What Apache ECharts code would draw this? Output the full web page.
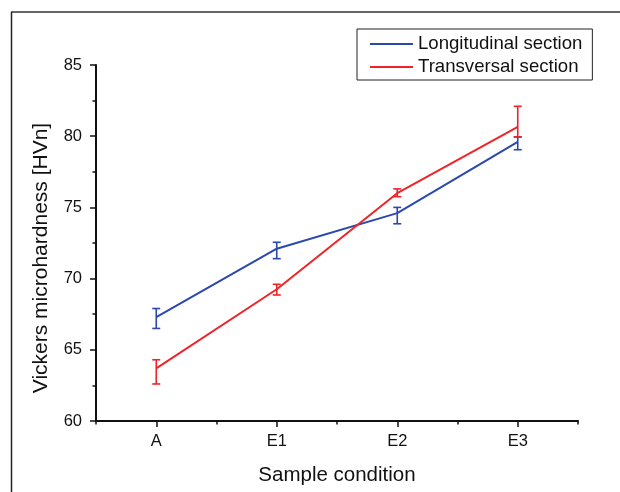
<!DOCTYPE html>
<html>
<head>
<meta charset="utf-8">
<script src="https://cdn.jsdelivr.net/npm/echarts@6/dist/echarts.min.js"></script>
<style>html,body{margin:0;padding:0;background:#fff;}#c{width:620px;height:492px;}</style>
</head>
<body>
<div id="c"></div>
<script>
// ---- data ----
const categories = ['A', 'E1', 'E2', 'E3'];
const yTicks = [60, 65, 70, 75, 80, 85];

const longName = 'Longitudinal section';
const longValues = [67.3, 72.1, 74.6, 79.6];
const longLow    = [66.5, 71.4, 73.85, 79.05];
const longHigh   = [67.9, 72.55, 75.0, 79.95];

const transName = 'Transversal section';
const transValues = [63.7, 69.25, 76.0, 80.65];
const transLow    = [62.6, 68.85, 75.75, 79.95];
const transHigh   = [64.3, 69.6, 76.3, 82.1];

// ---- styling ----
const BLUE = '#2a48ad';
const RED = '#ee2429';
const FONT = "'Liberation Sans', Arial, sans-serif";

function errSeries(name, low, high, color) {
  return {
    type: 'custom',
    name: name + ' err',
    xAxisIndex: 0,
    yAxisIndex: 0,
    z: 3,
    encode: { x: 0, y: [1, 2] },
    data: categories.map((c, i) => [i, low[i], high[i]]),
    renderItem: function (params, api) {
      const x = api.value(0);
      const pLo = api.coord([x, api.value(1)]);
      const pHi = api.coord([x, api.value(2)]);
      const hw = 4;
      const st = { stroke: color, lineWidth: 1.6 };
      return {
        type: 'group',
        children: [
          { type: 'line', shape: { x1: pLo[0], y1: pLo[1], x2: pHi[0], y2: pHi[1] }, style: st },
          { type: 'line', shape: { x1: pLo[0] - hw, y1: pLo[1], x2: pLo[0] + hw, y2: pLo[1] }, style: st },
          { type: 'line', shape: { x1: pHi[0] - hw, y1: pHi[1], x2: pHi[0] + hw, y2: pHi[1] }, style: st }
        ]
      };
    }
  };
}

const chart = echarts.init(document.getElementById('c'), null, { renderer: 'canvas' });
chart.setOption({
  animation: false,
  backgroundColor: '#fff',
  textStyle: { fontFamily: FONT, color: '#111' },
  grid: { left: 96, right: 42, top: 65, bottom: 71 },
  graphic: [
    { type: 'line', shape: { x1: 11, y1: 12, x2: 620, y2: 12 }, style: { stroke: '#666', lineWidth: 2 }, z: 100 },
    { type: 'line', shape: { x1: 11.5, y1: 12, x2: 11.5, y2: 492 }, style: { stroke: '#222', lineWidth: 1.5 }, z: 100 }
  ],
  legend: {
    left: 357,
    top: 29,
    orient: 'vertical',
    data: [longName, transName],
    icon: 'rect',
    itemWidth: 43,
    itemHeight: 2,
    itemGap: 3,
    padding: [5, 10, 3, 13],
    borderColor: '#222',
    borderWidth: 1,
    borderRadius: 0,
    backgroundColor: '#fff',
    textStyle: { fontFamily: FONT, fontSize: 18.6, color: '#111', lineHeight: 20 }
  },
  xAxis: [
    {
      type: 'category',
      data: categories,
      boundaryGap: true,
      position: 'bottom',
      name: 'Sample condition',
      nameLocation: 'middle',
      nameGap: 44,
      nameTextStyle: { fontFamily: FONT, fontSize: 20.5, color: '#111' },
      axisLine: { show: true, lineStyle: { color: '#111', width: 2 } },
      axisTick: { show: true, alignWithLabel: false, length: 3.5, lineStyle: { color: '#111', width: 1.5 } },
      axisLabel: { margin: 12, fontFamily: FONT, fontSize: 16.5, color: '#111' },
      splitLine: { show: false }
    },
    {
      type: 'category',
      data: categories,
      boundaryGap: true,
      position: 'bottom',
      axisLine: { show: false },
      axisTick: { show: true, alignWithLabel: true, length: 6, lineStyle: { color: '#111', width: 1.5 } },
      axisLabel: { show: false },
      splitLine: { show: false }
    }
  ],
  yAxis: {
    type: 'value',
    min: yTicks[0],
    max: yTicks[yTicks.length - 1],
    interval: 5,
    name: 'Vickers microhardness [HVn]',
    nameLocation: 'middle',
    nameGap: 44,
    nameTextStyle: { fontFamily: FONT, fontSize: 21, color: '#111', padding: [0, 30, 0, 0] },
    axisLine: { show: true, lineStyle: { color: '#111', width: 2 } },
    axisTick: { show: true, inside: false, length: 6, lineStyle: { color: '#111', width: 1.5 } },
    minorTick: { show: true, splitNumber: 2, length: 3.5, lineStyle: { color: '#111', width: 1.5 } },
    axisLabel: { margin: 14, fontFamily: FONT, fontSize: 16.5, color: '#111' },
    splitLine: { show: false }
  },
  series: [
    {
      type: 'line',
      name: longName,
      data: longValues,
      symbol: 'none',
      color: BLUE,
      lineStyle: { color: BLUE, width: 2 },
      z: 2
    },
    {
      type: 'line',
      name: transName,
      data: transValues,
      symbol: 'none',
      color: RED,
      lineStyle: { color: RED, width: 2 },
      z: 2
    },
    errSeries(longName, longLow, longHigh, BLUE),
    errSeries(transName, transLow, transHigh, RED)
  ]
});
</script>
</body>
</html>
